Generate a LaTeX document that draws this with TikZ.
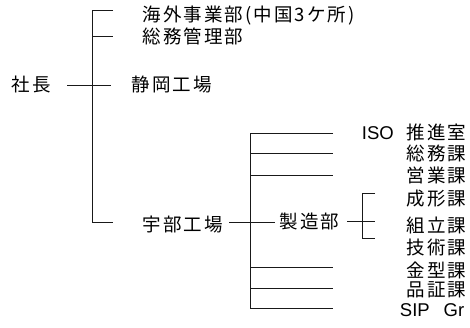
\documentclass[tikz,border=0pt]{standalone}
\usepackage{fontspec}
\newfontfamily\jp{Noto Sans CJK JP}[LetterSpace=11]
\newfontfamily\lat{Liberation Sans}
\begin{document}
\begin{tikzpicture}[x=1pt,y=-1pt,
  lbl/.style={inner sep=0pt, font=\jp\fontsize{18.5}{21}\selectfont},
  conn/.style={draw=black!90, line width=0.8pt}]
\useasboundingbox (0,0) rectangle (470,327);
% ---- left tree texts
\node[lbl,anchor=west] (shacho) at (11.5,84) {社長};
\node[lbl,anchor=west] (kaigai) at (142.5,15.5) {海外事業部(中国3ケ所)};
\node[lbl,anchor=west] (somukanri) at (142.5,36.5) {総務管理部};
\node[lbl,anchor=west] (shizuoka) at (131.5,84) {静岡工場};
\node[lbl,anchor=west] (ube) at (142.5,224) {宇部工場};
\node[lbl,anchor=west] (seizo) at (279.5,221.5) {製造部};
% ---- right column
\node[lbl,anchor=east] (iso) at (466.5,132.5) {{\lat ISO}\hspace{13pt}推進室};
\node[lbl,anchor=east] (somuka) at (466.5,153.5) {総務課};
\node[lbl,anchor=east] (eigyo) at (466.5,175.5) {営業課};
\node[lbl,anchor=east] (seikei) at (466.5,199) {成形課};
\node[lbl,anchor=east] (kumitate) at (466.5,225) {組立課};
\node[lbl,anchor=east] (gijutsu) at (466.5,247.5) {技術課};
\node[lbl,anchor=east] (kanagata) at (466.5,270) {金型課};
\node[lbl,anchor=east] (hinsho) at (466.5,290) {品証課};
\node[lbl,anchor=east] (sip) at (464.5,310) {{\lat SIP}\hspace{14pt}{\lat Gr}};
% ---- junction coordinates, main tree
\coordinate (sL) at (67,85);
\coordinate (sR) at (111,85);
\coordinate (tTop) at (92,10);
\coordinate (tTopR) at (113,10);
\coordinate (t2) at (92,36);
\coordinate (t2R) at (113,36);
\coordinate (tBot) at (92,222);
\coordinate (tBotR) at (113,222);
\draw[conn] (sL) -- (sR);
\draw[conn] (tTopR) -- (tTop) -- (tBot) -- (tBotR);
\draw[conn] (t2) -- (t2R);
% ---- Ube subtree
\coordinate (uL) at (229,222);
\coordinate (uR) at (275,222);
\coordinate (vTop) at (250,133);
\coordinate (vBot) at (250,308);
\coordinate (b1) at (333,133);
\coordinate (b2) at (333,153);
\coordinate (b2L) at (250,153);
\coordinate (b3) at (333,175);
\coordinate (b3L) at (250,175);
\coordinate (b4) at (333,267);
\coordinate (b4L) at (250,267);
\coordinate (b5) at (333,288);
\coordinate (b5L) at (250,288);
\coordinate (b6) at (333,308);
\draw[conn] (uL) -- (uR);
\draw[conn] (b1) -- (vTop) -- (vBot) -- (b6);
\draw[conn] (b2L) -- (b2);
\draw[conn] (b3L) -- (b3);
\draw[conn] (b4L) -- (b4);
\draw[conn] (b5L) -- (b5);
% ---- Seizo bracket
\coordinate (zL) at (347,221);
\coordinate (zR) at (375,221);
\coordinate (kTop) at (362,193);
\coordinate (kTopR) at (375,193);
\coordinate (kBot) at (362,238);
\coordinate (kBotR) at (375,238);
\draw[conn] (zL) -- (zR);
\draw[conn] (kTopR) -- (kTop) -- (kBot) -- (kBotR);
\end{tikzpicture}
\end{document}
